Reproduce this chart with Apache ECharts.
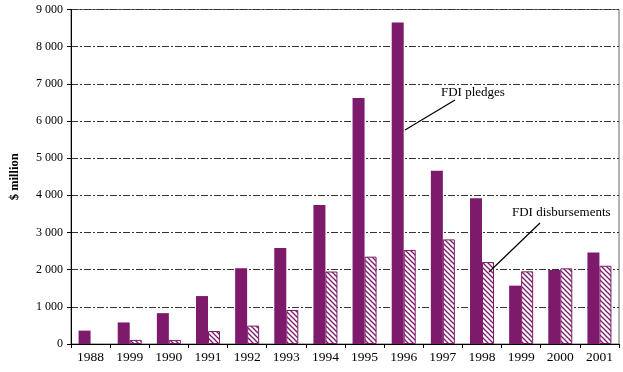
<!DOCTYPE html>
<html>
<head>
<meta charset="utf-8">
<script src="https://cdn.jsdelivr.net/npm/echarts@6/dist/echarts.min.js"></script>
<style>
html,body{margin:0;padding:0;background:#fff;}
#chart{width:623px;height:372px;}
</style>
</head>
<body>
<div id="chart"></div>
<script>
var categories = ['1988','1999','1990','1991','1992','1993','1994','1995','1996','1997','1998','1999','2000','2001'];
var pledges = [360, 580, 830, 1290, 2040, 2580, 3740, 6620, 8650, 4660, 3920, 1570, 1990, 2460];
var disbursements = [null, 110, 110, 350, 495, 915, 1950, 2350, 2530, 2815, 2205, 1955, 2035, 2105];
var yTicks = [0, 1000, 2000, 3000, 4000, 5000, 6000, 7000, 8000, 9000];

var purple = '#7d1a6b';

function hatch() {
  var c = document.createElement('canvas');
  c.width = 5; c.height = 5;
  var ctx = c.getContext('2d');
  ctx.fillStyle = '#ffffff';
  ctx.fillRect(0, 0, 5, 5);
  ctx.strokeStyle = purple;
  ctx.lineWidth = 1.3;
  for (var k = -5; k <= 5; k += 5) {
    ctx.beginPath();
    ctx.moveTo(k - 1, -1);
    ctx.lineTo(k + 6, 6);
    ctx.stroke();
  }
  return c;
}

var chart = echarts.init(document.getElementById('chart'), null, {renderer: 'canvas'});
var serif = '"Liberation Serif", "Times New Roman", serif';

chart.setOption({
  animation: false,
  backgroundColor: '#ffffff',
  grid: {
    left: 66, right: 4, top: 9.5, bottom: 28,
    show: true, borderColor: '#666', borderWidth: 1, backgroundColor: 'transparent'
  },
  xAxis: {
    type: 'category',
    data: categories,
    boundaryGap: true,
    axisLine: {lineStyle: {color: '#000', width: 1}},
    axisTick: {show: true, length: 4, inside: false, lineStyle: {color: '#000'}},
    axisLabel: {color: '#000', fontFamily: serif, fontSize: 13.5, margin: 6},
    splitLine: {show: false}
  },
  yAxis: {
    type: 'value',
    min: yTicks[0], max: yTicks[yTicks.length - 1], interval: 1000,
    name: '$ million',
    nameLocation: 'middle',
    nameGap: 50,
    nameTextStyle: {color: '#000', fontFamily: serif, fontWeight: 'bold', fontSize: 12.5},
    axisLine: {show: true, lineStyle: {color: '#000', width: 1}},
    axisTick: {show: true, length: 4, lineStyle: {color: '#000'}},
    axisLabel: {
      color: '#000', fontFamily: serif, fontSize: 12, margin: 8,
      formatter: function (v) { return v >= 1000 ? Math.floor(v / 1000) + ' ' + String(v % 1000).padStart(3, '0') : String(v); }
    },
    splitLine: {show: true, lineStyle: {color: '#333', width: 1, type: [7, 2, 2, 2]}}
  },
  series: [
    {
      name: 'FDI pledges', type: 'bar', data: pledges,
      barWidth: 12, barGap: '0%',
      itemStyle: {color: purple, borderColor: purple, borderWidth: 0}
    },
    {
      name: 'FDI disbursements', type: 'bar', data: disbursements,
      barWidth: 12,
      itemStyle: {color: {image: hatch(), repeat: 'repeat'}, borderColor: purple, borderWidth: 1}
    }
  ],
  graphic: [
    {type: 'line', shape: {x1: 405, y1: 130, x2: 455, y2: 100}, style: {stroke: '#000', lineWidth: 1.2}, z: 100},
    {type: 'text', left: 441, top: 86, style: {text: 'FDI pledges', fill: '#000', font: '13px ' + serif}, z: 100},
    {type: 'line', shape: {x1: 489, y1: 272, x2: 540, y2: 223}, style: {stroke: '#000', lineWidth: 1.2}, z: 100},
    {type: 'text', left: 512, top: 206, style: {text: 'FDI disbursements', fill: '#000', font: '13px ' + serif}, z: 100}
  ]
});
</script>
</body>
</html>
